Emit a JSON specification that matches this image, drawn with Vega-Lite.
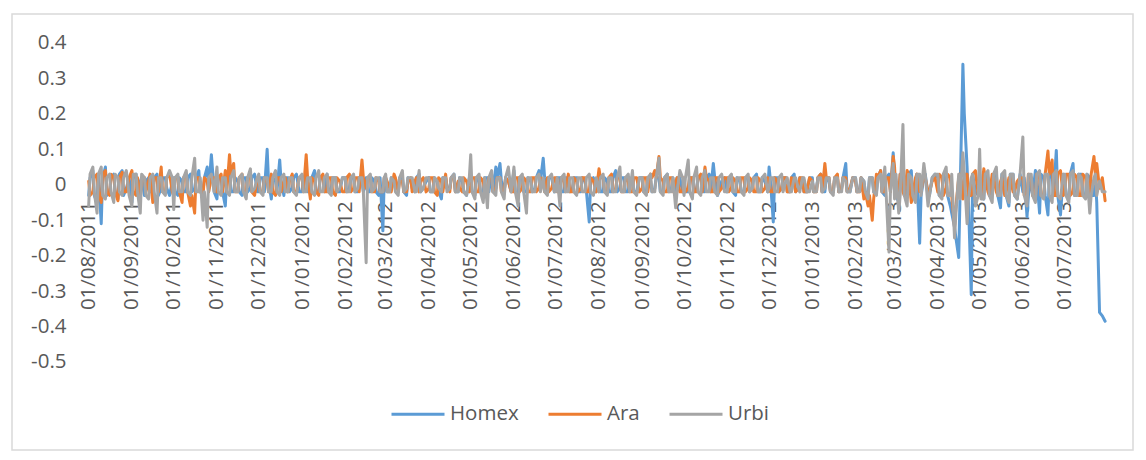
{
  "$schema": "https://vega.github.io/schema/vega-lite/v6.json",
  "width": 1121,
  "height": 436,
  "autosize": {"type": "none"},
  "padding": {"left": 12, "top": 14, "right": 13, "bottom": 10},
  "background": "white",
  "config": {
    "view": {"stroke": "#D9D9D9", "strokeWidth": 1.5},
    "font": "Open Sans"
  },
  "data": {
    "values": [
      {"d": "2011-08-01", "Homex": -0.03, "Ara": 0.01, "Urbi": -0.06},
      {"d": "2011-08-02", "Homex": 0.02, "Ara": -0.03, "Urbi": 0.03},
      {"d": "2011-08-04", "Homex": 0.04, "Ara": -0.02, "Urbi": 0.05},
      {"d": "2011-08-05", "Homex": -0.03, "Ara": 0.02, "Urbi": -0.02},
      {"d": "2011-08-07", "Homex": -0.05, "Ara": 0.03, "Urbi": -0.08},
      {"d": "2011-08-08", "Homex": 0.03, "Ara": -0.02, "Urbi": 0.03},
      {"d": "2011-08-10", "Homex": -0.11, "Ara": -0.05, "Urbi": 0.05},
      {"d": "2011-08-11", "Homex": 0.02, "Ara": 0.03, "Urbi": -0.03},
      {"d": "2011-08-13", "Homex": 0.05, "Ara": 0.04, "Urbi": -0.04},
      {"d": "2011-08-14", "Homex": -0.03, "Ara": -0.02, "Urbi": 0.02},
      {"d": "2011-08-16", "Homex": -0.02, "Ara": -0.03, "Urbi": 0.03},
      {"d": "2011-08-17", "Homex": 0.02, "Ara": 0.03, "Urbi": -0.02},
      {"d": "2011-08-19", "Homex": 0.03, "Ara": 0.02, "Urbi": -0.05},
      {"d": "2011-08-20", "Homex": -0.02, "Ara": -0.02, "Urbi": 0.03},
      {"d": "2011-08-22", "Homex": -0.04, "Ara": -0.045, "Urbi": 0.02},
      {"d": "2011-08-23", "Homex": 0.03, "Ara": 0.02, "Urbi": -0.02},
      {"d": "2011-08-25", "Homex": 0.04, "Ara": 0.035, "Urbi": -0.03},
      {"d": "2011-08-26", "Homex": -0.03, "Ara": -0.02, "Urbi": 0.02},
      {"d": "2011-08-28", "Homex": -0.01, "Ara": -0.02, "Urbi": 0.04},
      {"d": "2011-08-30", "Homex": 0.02, "Ara": 0.02, "Urbi": -0.03},
      {"d": "2011-09-01", "Homex": -0.05, "Ara": 0.04, "Urbi": -0.06},
      {"d": "2011-09-02", "Homex": 0.02, "Ara": -0.02, "Urbi": 0.03},
      {"d": "2011-09-04", "Homex": 0.03, "Ara": -0.03, "Urbi": 0.03},
      {"d": "2011-09-05", "Homex": -0.03, "Ara": 0.02, "Urbi": -0.02},
      {"d": "2011-09-07", "Homex": 0.01, "Ara": -0.04, "Urbi": -0.08},
      {"d": "2011-09-08", "Homex": 0.02, "Ara": 0.02, "Urbi": 0.03},
      {"d": "2011-09-10", "Homex": -0.03, "Ara": 0.02, "Urbi": 0.02},
      {"d": "2011-09-11", "Homex": 0.01, "Ara": -0.02, "Urbi": -0.03},
      {"d": "2011-09-13", "Homex": 0.02, "Ara": 0.01, "Urbi": -0.04},
      {"d": "2011-09-14", "Homex": -0.02, "Ara": 0.03, "Urbi": 0.02},
      {"d": "2011-09-16", "Homex": -0.02, "Ara": -0.05, "Urbi": 0.03},
      {"d": "2011-09-17", "Homex": 0.02, "Ara": 0.02, "Urbi": -0.02},
      {"d": "2011-09-19", "Homex": 0.03, "Ara": 0.02, "Urbi": -0.08},
      {"d": "2011-09-20", "Homex": -0.03, "Ara": -0.02, "Urbi": 0.02},
      {"d": "2011-09-22", "Homex": -0.01, "Ara": 0.05, "Urbi": 0.02},
      {"d": "2011-09-23", "Homex": 0.02, "Ara": -0.02, "Urbi": -0.02},
      {"d": "2011-09-25", "Homex": 0.02, "Ara": -0.02, "Urbi": -0.03},
      {"d": "2011-09-26", "Homex": -0.01, "Ara": 0.02, "Urbi": 0.02},
      {"d": "2011-09-28", "Homex": -0.03, "Ara": 0.03, "Urbi": 0.04},
      {"d": "2011-09-30", "Homex": 0.01, "Ara": -0.02, "Urbi": 0.02},
      {"d": "2011-10-01", "Homex": 0.02, "Ara": -0.03, "Urbi": -0.07},
      {"d": "2011-10-02", "Homex": -0.02, "Ara": 0.02, "Urbi": 0.02},
      {"d": "2011-10-04", "Homex": -0.03, "Ara": 0.02, "Urbi": 0.03},
      {"d": "2011-10-05", "Homex": 0.02, "Ara": -0.02, "Urbi": -0.02},
      {"d": "2011-10-07", "Homex": 0.01, "Ara": -0.05, "Urbi": -0.02},
      {"d": "2011-10-08", "Homex": -0.02, "Ara": 0.02, "Urbi": 0.02},
      {"d": "2011-10-10", "Homex": -0.02, "Ara": 0.03, "Urbi": 0.04},
      {"d": "2011-10-11", "Homex": 0.02, "Ara": -0.02, "Urbi": -0.02},
      {"d": "2011-10-13", "Homex": 0.03, "Ara": -0.06, "Urbi": -0.03},
      {"d": "2011-10-14", "Homex": -0.02, "Ara": -0.03, "Urbi": 0.02},
      {"d": "2011-10-16", "Homex": -0.01, "Ara": -0.08, "Urbi": 0.075},
      {"d": "2011-10-17", "Homex": 0.02, "Ara": 0.02, "Urbi": -0.02},
      {"d": "2011-10-19", "Homex": 0.04, "Ara": 0.02, "Urbi": -0.02},
      {"d": "2011-10-20", "Homex": -0.02, "Ara": -0.02, "Urbi": 0.02},
      {"d": "2011-10-22", "Homex": -0.02, "Ara": -0.03, "Urbi": -0.1},
      {"d": "2011-10-23", "Homex": 0.02, "Ara": 0.02, "Urbi": -0.02},
      {"d": "2011-10-25", "Homex": 0.05, "Ara": 0.01, "Urbi": -0.12},
      {"d": "2011-10-26", "Homex": -0.02, "Ara": -0.02, "Urbi": 0.02},
      {"d": "2011-10-28", "Homex": 0.085, "Ara": 0.02, "Urbi": 0.03},
      {"d": "2011-10-30", "Homex": -0.02, "Ara": 0.02, "Urbi": -0.02},
      {"d": "2011-11-01", "Homex": -0.04, "Ara": -0.02, "Urbi": 0.05},
      {"d": "2011-11-02", "Homex": 0.02, "Ara": 0.02, "Urbi": -0.02},
      {"d": "2011-11-04", "Homex": 0.02, "Ara": 0.03, "Urbi": -0.03},
      {"d": "2011-11-05", "Homex": -0.02, "Ara": -0.02, "Urbi": 0.02},
      {"d": "2011-11-07", "Homex": -0.06, "Ara": 0.04, "Urbi": 0.02},
      {"d": "2011-11-08", "Homex": 0.02, "Ara": -0.02, "Urbi": -0.02},
      {"d": "2011-11-10", "Homex": 0.03, "Ara": 0.085, "Urbi": -0.03},
      {"d": "2011-11-11", "Homex": -0.02, "Ara": 0.03, "Urbi": 0.02},
      {"d": "2011-11-13", "Homex": -0.02, "Ara": 0.06, "Urbi": 0.04},
      {"d": "2011-11-14", "Homex": 0.02, "Ara": -0.02, "Urbi": -0.02},
      {"d": "2011-11-16", "Homex": 0.01, "Ara": -0.02, "Urbi": -0.02},
      {"d": "2011-11-17", "Homex": -0.02, "Ara": 0.02, "Urbi": 0.02},
      {"d": "2011-11-19", "Homex": -0.03, "Ara": 0.03, "Urbi": 0.03},
      {"d": "2011-11-20", "Homex": 0.02, "Ara": -0.02, "Urbi": -0.02},
      {"d": "2011-11-22", "Homex": 0.02, "Ara": -0.02, "Urbi": -0.04},
      {"d": "2011-11-23", "Homex": -0.02, "Ara": 0.02, "Urbi": 0.02},
      {"d": "2011-11-25", "Homex": -0.01, "Ara": 0.02, "Urbi": 0.045},
      {"d": "2011-11-26", "Homex": 0.02, "Ara": -0.02, "Urbi": -0.02},
      {"d": "2011-11-28", "Homex": 0.03, "Ara": -0.03, "Urbi": -0.01},
      {"d": "2011-11-30", "Homex": -0.02, "Ara": 0.02, "Urbi": 0.02},
      {"d": "2011-12-01", "Homex": -0.02, "Ara": 0.02, "Urbi": 0.03},
      {"d": "2011-12-02", "Homex": 0.02, "Ara": -0.02, "Urbi": -0.02},
      {"d": "2011-12-04", "Homex": 0.02, "Ara": -0.02, "Urbi": -0.03},
      {"d": "2011-12-05", "Homex": -0.02, "Ara": 0.02, "Urbi": 0.02},
      {"d": "2011-12-07", "Homex": 0.1, "Ara": 0.01, "Urbi": 0.02},
      {"d": "2011-12-08", "Homex": 0.01, "Ara": -0.02, "Urbi": -0.02},
      {"d": "2011-12-10", "Homex": -0.04, "Ara": 0.03, "Urbi": -0.02},
      {"d": "2011-12-11", "Homex": 0.02, "Ara": -0.02, "Urbi": 0.02},
      {"d": "2011-12-13", "Homex": 0.01, "Ara": -0.03, "Urbi": 0.04},
      {"d": "2011-12-14", "Homex": -0.02, "Ara": 0.02, "Urbi": -0.02},
      {"d": "2011-12-16", "Homex": 0.07, "Ara": 0.02, "Urbi": -0.03},
      {"d": "2011-12-17", "Homex": 0.01, "Ara": -0.02, "Urbi": 0.02},
      {"d": "2011-12-19", "Homex": -0.03, "Ara": 0.01, "Urbi": 0.03},
      {"d": "2011-12-20", "Homex": 0.02, "Ara": 0.02, "Urbi": -0.02},
      {"d": "2011-12-22", "Homex": 0.02, "Ara": -0.02, "Urbi": -0.02},
      {"d": "2011-12-23", "Homex": -0.02, "Ara": 0.01, "Urbi": 0.02},
      {"d": "2011-12-25", "Homex": -0.01, "Ara": 0.03, "Urbi": 0.02},
      {"d": "2011-12-26", "Homex": 0.02, "Ara": -0.02, "Urbi": -0.02},
      {"d": "2011-12-28", "Homex": 0.03, "Ara": -0.02, "Urbi": -0.03},
      {"d": "2011-12-30", "Homex": -0.02, "Ara": 0.02, "Urbi": 0.02},
      {"d": "2012-01-01", "Homex": -0.02, "Ara": 0.02, "Urbi": 0.03},
      {"d": "2012-01-02", "Homex": 0.02, "Ara": -0.02, "Urbi": -0.02},
      {"d": "2012-01-04", "Homex": 0.03, "Ara": 0.085, "Urbi": -0.02},
      {"d": "2012-01-05", "Homex": -0.02, "Ara": 0.02, "Urbi": 0.02},
      {"d": "2012-01-07", "Homex": -0.01, "Ara": -0.04, "Urbi": 0.02},
      {"d": "2012-01-08", "Homex": 0.02, "Ara": 0.02, "Urbi": -0.02},
      {"d": "2012-01-10", "Homex": 0.04, "Ara": 0.01, "Urbi": -0.03},
      {"d": "2012-01-11", "Homex": -0.02, "Ara": -0.02, "Urbi": 0.02},
      {"d": "2012-01-13", "Homex": -0.02, "Ara": -0.03, "Urbi": 0.04},
      {"d": "2012-01-14", "Homex": 0.02, "Ara": 0.02, "Urbi": -0.02},
      {"d": "2012-01-16", "Homex": 0.02, "Ara": 0.03, "Urbi": -0.02},
      {"d": "2012-01-17", "Homex": -0.02, "Ara": -0.02, "Urbi": 0.02},
      {"d": "2012-01-19", "Homex": 0.03, "Ara": -0.02, "Urbi": 0.03},
      {"d": "2012-01-20", "Homex": -0.02, "Ara": 0.02, "Urbi": -0.02},
      {"d": "2012-01-22", "Homex": -0.01, "Ara": 0.02, "Urbi": -0.03},
      {"d": "2012-01-23", "Homex": 0.02, "Ara": -0.02, "Urbi": 0.02},
      {"d": "2012-01-25", "Homex": 0.02, "Ara": -0.03, "Urbi": 0.02},
      {"d": "2012-01-26", "Homex": -0.02, "Ara": 0.02, "Urbi": -0.02},
      {"d": "2012-01-28", "Homex": -0.02, "Ara": 0.01, "Urbi": -0.01},
      {"d": "2012-01-30", "Homex": 0.02, "Ara": -0.02, "Urbi": 0.02},
      {"d": "2012-02-01", "Homex": 0.02, "Ara": -0.02, "Urbi": 0.02},
      {"d": "2012-02-02", "Homex": -0.02, "Ara": 0.02, "Urbi": -0.02},
      {"d": "2012-02-04", "Homex": -0.01, "Ara": 0.03, "Urbi": -0.02},
      {"d": "2012-02-05", "Homex": 0.02, "Ara": -0.02, "Urbi": 0.02},
      {"d": "2012-02-07", "Homex": 0.02, "Ara": -0.01, "Urbi": 0.03},
      {"d": "2012-02-08", "Homex": -0.02, "Ara": 0.02, "Urbi": -0.02},
      {"d": "2012-02-10", "Homex": -0.02, "Ara": 0.02, "Urbi": -0.01},
      {"d": "2012-02-11", "Homex": 0.02, "Ara": -0.02, "Urbi": 0.02},
      {"d": "2012-02-13", "Homex": 0.01, "Ara": 0.07, "Urbi": 0.02},
      {"d": "2012-02-14", "Homex": -0.02, "Ara": 0.02, "Urbi": -0.02},
      {"d": "2012-02-16", "Homex": 0.02, "Ara": -0.01, "Urbi": -0.22},
      {"d": "2012-02-17", "Homex": -0.02, "Ara": 0.02, "Urbi": 0.02},
      {"d": "2012-02-19", "Homex": -0.02, "Ara": 0.02, "Urbi": 0.03},
      {"d": "2012-02-20", "Homex": 0.02, "Ara": -0.02, "Urbi": -0.02},
      {"d": "2012-02-22", "Homex": 0.01, "Ara": -0.02, "Urbi": -0.01},
      {"d": "2012-02-23", "Homex": -0.02, "Ara": 0.02, "Urbi": 0.02},
      {"d": "2012-02-25", "Homex": -0.03, "Ara": 0.01, "Urbi": 0.02},
      {"d": "2012-02-26", "Homex": 0.02, "Ara": -0.02, "Urbi": -0.02},
      {"d": "2012-02-28", "Homex": -0.13, "Ara": -0.02, "Urbi": -0.02},
      {"d": "2012-02-29", "Homex": 0.02, "Ara": 0.02, "Urbi": 0.02},
      {"d": "2012-03-01", "Homex": 0.02, "Ara": 0.02, "Urbi": 0.03},
      {"d": "2012-03-02", "Homex": -0.02, "Ara": 0.01, "Urbi": -0.02},
      {"d": "2012-03-04", "Homex": -0.02, "Ara": -0.01, "Urbi": -0.02},
      {"d": "2012-03-05", "Homex": 0.02, "Ara": -0.02, "Urbi": 0.02},
      {"d": "2012-03-07", "Homex": 0.01, "Ara": 0.03, "Urbi": 0.01},
      {"d": "2012-03-08", "Homex": -0.01, "Ara": 0.02, "Urbi": -0.02},
      {"d": "2012-03-10", "Homex": -0.01, "Ara": -0.02, "Urbi": -0.03},
      {"d": "2012-03-11", "Homex": 0.02, "Ara": 0.01, "Urbi": 0.02},
      {"d": "2012-03-13", "Homex": 0.02, "Ara": 0.01, "Urbi": 0.04},
      {"d": "2012-03-14", "Homex": -0.02, "Ara": -0.02, "Urbi": -0.02},
      {"d": "2012-03-16", "Homex": -0.03, "Ara": -0.02, "Urbi": -0.01},
      {"d": "2012-03-17", "Homex": 0.02, "Ara": 0.01, "Urbi": 0.02},
      {"d": "2012-03-19", "Homex": 0.01, "Ara": 0.02, "Urbi": 0.02},
      {"d": "2012-03-20", "Homex": -0.01, "Ara": -0.02, "Urbi": 0.02},
      {"d": "2012-03-22", "Homex": -0.02, "Ara": 0.01, "Urbi": -0.02},
      {"d": "2012-03-23", "Homex": 0.02, "Ara": 0.02, "Urbi": -0.02},
      {"d": "2012-03-25", "Homex": 0.03, "Ara": -0.02, "Urbi": 0.04},
      {"d": "2012-03-26", "Homex": -0.02, "Ara": 0.01, "Urbi": -0.02},
      {"d": "2012-03-28", "Homex": -0.01, "Ara": 0.02, "Urbi": -0.01},
      {"d": "2012-03-30", "Homex": 0.01, "Ara": -0.02, "Urbi": 0.02},
      {"d": "2012-04-01", "Homex": 0.02, "Ara": -0.01, "Urbi": 0.02},
      {"d": "2012-04-02", "Homex": -0.02, "Ara": 0.02, "Urbi": -0.02},
      {"d": "2012-04-04", "Homex": -0.02, "Ara": 0.02, "Urbi": -0.02},
      {"d": "2012-04-05", "Homex": 0.02, "Ara": -0.02, "Urbi": 0.02},
      {"d": "2012-04-07", "Homex": 0.01, "Ara": -0.03, "Urbi": 0.01},
      {"d": "2012-04-08", "Homex": -0.02, "Ara": 0.02, "Urbi": -0.01},
      {"d": "2012-04-10", "Homex": -0.04, "Ara": 0.01, "Urbi": -0.02},
      {"d": "2012-04-11", "Homex": 0.02, "Ara": -0.02, "Urbi": 0.02},
      {"d": "2012-04-13", "Homex": 0.02, "Ara": 0.03, "Urbi": 0.02},
      {"d": "2012-04-14", "Homex": -0.01, "Ara": -0.01, "Urbi": -0.02},
      {"d": "2012-04-16", "Homex": -0.01, "Ara": -0.02, "Urbi": -0.01},
      {"d": "2012-04-17", "Homex": 0.02, "Ara": 0.02, "Urbi": 0.02},
      {"d": "2012-04-19", "Homex": 0.03, "Ara": 0.02, "Urbi": 0.03},
      {"d": "2012-04-20", "Homex": -0.02, "Ara": -0.02, "Urbi": -0.02},
      {"d": "2012-04-22", "Homex": -0.02, "Ara": 0.01, "Urbi": -0.02},
      {"d": "2012-04-23", "Homex": 0.02, "Ara": -0.01, "Urbi": 0.02},
      {"d": "2012-04-25", "Homex": 0.01, "Ara": -0.02, "Urbi": 0.02},
      {"d": "2012-04-26", "Homex": -0.02, "Ara": 0.02, "Urbi": -0.02},
      {"d": "2012-04-28", "Homex": -0.03, "Ara": 0.01, "Urbi": -0.03},
      {"d": "2012-04-30", "Homex": 0.02, "Ara": -0.02, "Urbi": 0.02},
      {"d": "2012-05-01", "Homex": 0.02, "Ara": -0.01, "Urbi": 0.085},
      {"d": "2012-05-02", "Homex": -0.02, "Ara": 0.02, "Urbi": -0.02},
      {"d": "2012-05-04", "Homex": -0.03, "Ara": 0.02, "Urbi": -0.04},
      {"d": "2012-05-05", "Homex": 0.02, "Ara": -0.02, "Urbi": 0.02},
      {"d": "2012-05-07", "Homex": 0.01, "Ara": -0.02, "Urbi": 0.03},
      {"d": "2012-05-08", "Homex": -0.02, "Ara": 0.02, "Urbi": -0.02},
      {"d": "2012-05-10", "Homex": -0.02, "Ara": 0.01, "Urbi": -0.05},
      {"d": "2012-05-11", "Homex": 0.02, "Ara": -0.02, "Urbi": 0.02},
      {"d": "2012-05-13", "Homex": 0.02, "Ara": -0.01, "Urbi": -0.065},
      {"d": "2012-05-14", "Homex": -0.02, "Ara": 0.02, "Urbi": 0.02},
      {"d": "2012-05-16", "Homex": 0.03, "Ara": 0.02, "Urbi": 0.04},
      {"d": "2012-05-17", "Homex": -0.02, "Ara": -0.02, "Urbi": -0.02},
      {"d": "2012-05-19", "Homex": 0.05, "Ara": -0.01, "Urbi": -0.03},
      {"d": "2012-05-20", "Homex": 0.02, "Ara": 0.02, "Urbi": 0.02},
      {"d": "2012-05-22", "Homex": 0.06, "Ara": 0.02, "Urbi": 0.02},
      {"d": "2012-05-23", "Homex": 0.01, "Ara": -0.02, "Urbi": -0.02},
      {"d": "2012-05-25", "Homex": -0.02, "Ara": -0.02, "Urbi": -0.04},
      {"d": "2012-05-26", "Homex": 0.02, "Ara": 0.02, "Urbi": 0.02},
      {"d": "2012-05-28", "Homex": 0.01, "Ara": 0.01, "Urbi": 0.05},
      {"d": "2012-05-30", "Homex": -0.02, "Ara": -0.02, "Urbi": -0.02},
      {"d": "2012-06-01", "Homex": 0.04, "Ara": -0.02, "Urbi": 0.05},
      {"d": "2012-06-02", "Homex": -0.02, "Ara": 0.02, "Urbi": -0.02},
      {"d": "2012-06-04", "Homex": -0.03, "Ara": 0.02, "Urbi": -0.06},
      {"d": "2012-06-05", "Homex": 0.02, "Ara": -0.02, "Urbi": 0.02},
      {"d": "2012-06-07", "Homex": 0.02, "Ara": -0.01, "Urbi": 0.03},
      {"d": "2012-06-08", "Homex": -0.02, "Ara": 0.02, "Urbi": -0.02},
      {"d": "2012-06-10", "Homex": -0.02, "Ara": 0.01, "Urbi": -0.08},
      {"d": "2012-06-11", "Homex": 0.02, "Ara": -0.02, "Urbi": 0.02},
      {"d": "2012-06-13", "Homex": 0.01, "Ara": -0.02, "Urbi": 0.02},
      {"d": "2012-06-14", "Homex": -0.02, "Ara": 0.02, "Urbi": -0.02},
      {"d": "2012-06-16", "Homex": -0.01, "Ara": 0.02, "Urbi": -0.02},
      {"d": "2012-06-17", "Homex": 0.02, "Ara": -0.02, "Urbi": 0.02},
      {"d": "2012-06-19", "Homex": 0.04, "Ara": -0.01, "Urbi": 0.03},
      {"d": "2012-06-20", "Homex": 0.01, "Ara": 0.02, "Urbi": -0.02},
      {"d": "2012-06-22", "Homex": 0.075, "Ara": 0.01, "Urbi": 0.02},
      {"d": "2012-06-23", "Homex": 0.02, "Ara": -0.02, "Urbi": -0.02},
      {"d": "2012-06-25", "Homex": -0.02, "Ara": 0.02, "Urbi": -0.03},
      {"d": "2012-06-26", "Homex": 0.02, "Ara": -0.02, "Urbi": 0.02},
      {"d": "2012-06-28", "Homex": 0.02, "Ara": -0.01, "Urbi": 0.03},
      {"d": "2012-06-30", "Homex": -0.02, "Ara": 0.02, "Urbi": -0.02},
      {"d": "2012-07-01", "Homex": -0.01, "Ara": 0.02, "Urbi": -0.02},
      {"d": "2012-07-02", "Homex": 0.02, "Ara": -0.02, "Urbi": 0.02},
      {"d": "2012-07-04", "Homex": 0.02, "Ara": -0.02, "Urbi": -0.06},
      {"d": "2012-07-05", "Homex": -0.02, "Ara": 0.02, "Urbi": 0.02},
      {"d": "2012-07-07", "Homex": -0.02, "Ara": 0.01, "Urbi": 0.03},
      {"d": "2012-07-08", "Homex": 0.02, "Ara": -0.02, "Urbi": -0.02},
      {"d": "2012-07-10", "Homex": 0.02, "Ara": 0.03, "Urbi": -0.02},
      {"d": "2012-07-11", "Homex": -0.02, "Ara": -0.02, "Urbi": 0.02},
      {"d": "2012-07-13", "Homex": -0.01, "Ara": -0.02, "Urbi": 0.02},
      {"d": "2012-07-14", "Homex": 0.02, "Ara": 0.02, "Urbi": -0.02},
      {"d": "2012-07-16", "Homex": 0.02, "Ara": 0.01, "Urbi": -0.03},
      {"d": "2012-07-17", "Homex": -0.02, "Ara": -0.02, "Urbi": 0.02},
      {"d": "2012-07-19", "Homex": -0.02, "Ara": -0.01, "Urbi": 0.02},
      {"d": "2012-07-20", "Homex": 0.02, "Ara": 0.02, "Urbi": -0.02},
      {"d": "2012-07-22", "Homex": 0.01, "Ara": 0.02, "Urbi": -0.02},
      {"d": "2012-07-23", "Homex": -0.02, "Ara": -0.02, "Urbi": 0.02},
      {"d": "2012-07-25", "Homex": -0.105, "Ara": -0.02, "Urbi": 0.03},
      {"d": "2012-07-26", "Homex": 0.01, "Ara": 0.02, "Urbi": -0.02},
      {"d": "2012-07-28", "Homex": 0.02, "Ara": 0.01, "Urbi": -0.03},
      {"d": "2012-07-30", "Homex": -0.02, "Ara": -0.02, "Urbi": 0.02},
      {"d": "2012-08-01", "Homex": 0.03, "Ara": 0.045, "Urbi": -0.02},
      {"d": "2012-08-02", "Homex": -0.02, "Ara": 0.02, "Urbi": 0.02},
      {"d": "2012-08-04", "Homex": -0.02, "Ara": 0.02, "Urbi": 0.03},
      {"d": "2012-08-05", "Homex": 0.02, "Ara": -0.02, "Urbi": -0.02},
      {"d": "2012-08-07", "Homex": 0.01, "Ara": -0.02, "Urbi": -0.03},
      {"d": "2012-08-08", "Homex": -0.02, "Ara": 0.02, "Urbi": 0.02},
      {"d": "2012-08-10", "Homex": -0.02, "Ara": 0.03, "Urbi": 0.02},
      {"d": "2012-08-11", "Homex": 0.02, "Ara": -0.02, "Urbi": -0.02},
      {"d": "2012-08-13", "Homex": 0.04, "Ara": -0.01, "Urbi": -0.02},
      {"d": "2012-08-14", "Homex": -0.02, "Ara": 0.02, "Urbi": 0.02},
      {"d": "2012-08-16", "Homex": -0.01, "Ara": 0.02, "Urbi": 0.05},
      {"d": "2012-08-17", "Homex": 0.02, "Ara": -0.02, "Urbi": -0.02},
      {"d": "2012-08-19", "Homex": 0.02, "Ara": -0.02, "Urbi": -0.02},
      {"d": "2012-08-20", "Homex": -0.02, "Ara": 0.02, "Urbi": 0.02},
      {"d": "2012-08-22", "Homex": -0.02, "Ara": 0.01, "Urbi": 0.03},
      {"d": "2012-08-23", "Homex": 0.02, "Ara": -0.02, "Urbi": -0.02},
      {"d": "2012-08-25", "Homex": 0.01, "Ara": -0.02, "Urbi": 0.04},
      {"d": "2012-08-26", "Homex": -0.02, "Ara": 0.02, "Urbi": -0.02},
      {"d": "2012-08-28", "Homex": -0.02, "Ara": 0.02, "Urbi": -0.03},
      {"d": "2012-08-30", "Homex": 0.02, "Ara": -0.02, "Urbi": 0.02},
      {"d": "2012-09-01", "Homex": 0.02, "Ara": -0.01, "Urbi": 0.02},
      {"d": "2012-09-02", "Homex": -0.02, "Ara": 0.02, "Urbi": -0.02},
      {"d": "2012-09-04", "Homex": -0.02, "Ara": 0.02, "Urbi": -0.03},
      {"d": "2012-09-05", "Homex": 0.02, "Ara": -0.02, "Urbi": 0.02},
      {"d": "2012-09-07", "Homex": 0.01, "Ara": 0.03, "Urbi": 0.03},
      {"d": "2012-09-08", "Homex": -0.02, "Ara": 0.02, "Urbi": -0.02},
      {"d": "2012-09-10", "Homex": -0.01, "Ara": 0.04, "Urbi": -0.02},
      {"d": "2012-09-11", "Homex": 0.02, "Ara": 0.02, "Urbi": 0.02},
      {"d": "2012-09-13", "Homex": 0.02, "Ara": 0.08, "Urbi": 0.075},
      {"d": "2012-09-14", "Homex": -0.02, "Ara": 0.02, "Urbi": -0.02},
      {"d": "2012-09-16", "Homex": -0.02, "Ara": 0.01, "Urbi": -0.03},
      {"d": "2012-09-17", "Homex": 0.02, "Ara": -0.02, "Urbi": 0.02},
      {"d": "2012-09-19", "Homex": 0.03, "Ara": -0.02, "Urbi": 0.03},
      {"d": "2012-09-20", "Homex": -0.02, "Ara": 0.02, "Urbi": -0.02},
      {"d": "2012-09-22", "Homex": -0.01, "Ara": 0.02, "Urbi": -0.02},
      {"d": "2012-09-23", "Homex": 0.02, "Ara": -0.02, "Urbi": 0.02},
      {"d": "2012-09-25", "Homex": -0.03, "Ara": 0.01, "Urbi": -0.065},
      {"d": "2012-09-26", "Homex": 0.02, "Ara": 0.02, "Urbi": -0.02},
      {"d": "2012-09-28", "Homex": 0.02, "Ara": -0.02, "Urbi": 0.04},
      {"d": "2012-09-30", "Homex": -0.02, "Ara": -0.02, "Urbi": 0.02},
      {"d": "2012-10-01", "Homex": 0.01, "Ara": 0.02, "Urbi": -0.03},
      {"d": "2012-10-02", "Homex": -0.02, "Ara": -0.02, "Urbi": 0.02},
      {"d": "2012-10-04", "Homex": -0.02, "Ara": -0.01, "Urbi": 0.07},
      {"d": "2012-10-05", "Homex": 0.02, "Ara": 0.02, "Urbi": -0.02},
      {"d": "2012-10-07", "Homex": 0.02, "Ara": 0.02, "Urbi": -0.04},
      {"d": "2012-10-08", "Homex": -0.02, "Ara": -0.02, "Urbi": 0.02},
      {"d": "2012-10-10", "Homex": -0.01, "Ara": -0.02, "Urbi": 0.05},
      {"d": "2012-10-11", "Homex": 0.02, "Ara": 0.02, "Urbi": -0.02},
      {"d": "2012-10-13", "Homex": 0.02, "Ara": 0.03, "Urbi": -0.03},
      {"d": "2012-10-14", "Homex": -0.02, "Ara": -0.02, "Urbi": 0.02},
      {"d": "2012-10-16", "Homex": -0.02, "Ara": 0.05, "Urbi": 0.04},
      {"d": "2012-10-17", "Homex": 0.02, "Ara": 0.02, "Urbi": -0.02},
      {"d": "2012-10-19", "Homex": 0.03, "Ara": 0.01, "Urbi": -0.02},
      {"d": "2012-10-20", "Homex": -0.02, "Ara": -0.02, "Urbi": 0.02},
      {"d": "2012-10-22", "Homex": 0.06, "Ara": -0.02, "Urbi": 0.02},
      {"d": "2012-10-23", "Homex": 0.02, "Ara": 0.02, "Urbi": -0.02},
      {"d": "2012-10-25", "Homex": -0.03, "Ara": 0.02, "Urbi": -0.03},
      {"d": "2012-10-26", "Homex": -0.02, "Ara": -0.02, "Urbi": 0.02},
      {"d": "2012-10-28", "Homex": 0.01, "Ara": -0.01, "Urbi": 0.03},
      {"d": "2012-10-30", "Homex": 0.02, "Ara": 0.02, "Urbi": -0.02},
      {"d": "2012-11-01", "Homex": -0.02, "Ara": 0.02, "Urbi": -0.02},
      {"d": "2012-11-02", "Homex": 0.02, "Ara": -0.02, "Urbi": 0.02},
      {"d": "2012-11-04", "Homex": 0.02, "Ara": -0.01, "Urbi": 0.03},
      {"d": "2012-11-05", "Homex": -0.02, "Ara": 0.02, "Urbi": -0.02},
      {"d": "2012-11-07", "Homex": -0.03, "Ara": 0.01, "Urbi": -0.02},
      {"d": "2012-11-08", "Homex": 0.02, "Ara": -0.02, "Urbi": 0.02},
      {"d": "2012-11-10", "Homex": 0.01, "Ara": -0.02, "Urbi": 0.02},
      {"d": "2012-11-11", "Homex": -0.02, "Ara": 0.02, "Urbi": -0.02},
      {"d": "2012-11-13", "Homex": -0.02, "Ara": 0.02, "Urbi": -0.03},
      {"d": "2012-11-14", "Homex": 0.02, "Ara": -0.02, "Urbi": 0.02},
      {"d": "2012-11-16", "Homex": 0.02, "Ara": -0.01, "Urbi": 0.03},
      {"d": "2012-11-17", "Homex": -0.02, "Ara": 0.02, "Urbi": -0.02},
      {"d": "2012-11-19", "Homex": -0.01, "Ara": 0.01, "Urbi": -0.01},
      {"d": "2012-11-20", "Homex": 0.02, "Ara": -0.02, "Urbi": 0.02},
      {"d": "2012-11-22", "Homex": 0.03, "Ara": -0.02, "Urbi": 0.02},
      {"d": "2012-11-23", "Homex": -0.02, "Ara": 0.02, "Urbi": -0.02},
      {"d": "2012-11-25", "Homex": -0.02, "Ara": 0.01, "Urbi": -0.02},
      {"d": "2012-11-26", "Homex": 0.02, "Ara": -0.02, "Urbi": 0.02},
      {"d": "2012-11-28", "Homex": 0.01, "Ara": -0.01, "Urbi": 0.03},
      {"d": "2012-11-30", "Homex": -0.02, "Ara": 0.02, "Urbi": -0.02},
      {"d": "2012-12-01", "Homex": 0.05, "Ara": 0.01, "Urbi": -0.01},
      {"d": "2012-12-02", "Homex": 0.01, "Ara": -0.02, "Urbi": 0.02},
      {"d": "2012-12-04", "Homex": -0.105, "Ara": -0.02, "Urbi": 0.02},
      {"d": "2012-12-05", "Homex": 0.02, "Ara": 0.02, "Urbi": -0.02},
      {"d": "2012-12-07", "Homex": 0.02, "Ara": 0.01, "Urbi": -0.02},
      {"d": "2012-12-08", "Homex": -0.02, "Ara": -0.02, "Urbi": 0.02},
      {"d": "2012-12-10", "Homex": -0.01, "Ara": -0.01, "Urbi": 0.03},
      {"d": "2012-12-11", "Homex": 0.02, "Ara": 0.02, "Urbi": -0.02},
      {"d": "2012-12-13", "Homex": 0.02, "Ara": 0.02, "Urbi": 0.01},
      {"d": "2012-12-14", "Homex": -0.02, "Ara": -0.02, "Urbi": 0.02},
      {"d": "2012-12-16", "Homex": -0.02, "Ara": -0.02, "Urbi": -0.02},
      {"d": "2012-12-17", "Homex": 0.02, "Ara": 0.02, "Urbi": -0.02},
      {"d": "2012-12-19", "Homex": 0.03, "Ara": 0.01, "Urbi": 0.02},
      {"d": "2012-12-20", "Homex": -0.02, "Ara": -0.02, "Urbi": 0.02},
      {"d": "2012-12-22", "Homex": -0.01, "Ara": -0.01, "Urbi": -0.01},
      {"d": "2012-12-23", "Homex": 0.02, "Ara": 0.02, "Urbi": -0.02},
      {"d": "2012-12-25", "Homex": 0.01, "Ara": 0.02, "Urbi": 0.02},
      {"d": "2012-12-26", "Homex": -0.02, "Ara": -0.02, "Urbi": 0.02},
      {"d": "2012-12-28", "Homex": -0.02, "Ara": -0.02, "Urbi": -0.02},
      {"d": "2012-12-30", "Homex": 0.02, "Ara": 0.02, "Urbi": -0.02},
      {"d": "2013-01-01", "Homex": 0.02, "Ara": 0.01, "Urbi": 0.01},
      {"d": "2013-01-02", "Homex": -0.02, "Ara": -0.02, "Urbi": -0.02},
      {"d": "2013-01-04", "Homex": -0.01, "Ara": -0.02, "Urbi": -0.02},
      {"d": "2013-01-05", "Homex": 0.02, "Ara": 0.02, "Urbi": 0.02},
      {"d": "2013-01-07", "Homex": 0.03, "Ara": 0.03, "Urbi": 0.02},
      {"d": "2013-01-08", "Homex": -0.02, "Ara": -0.02, "Urbi": -0.02},
      {"d": "2013-01-10", "Homex": -0.02, "Ara": 0.06, "Urbi": -0.01},
      {"d": "2013-01-11", "Homex": 0.02, "Ara": 0.02, "Urbi": 0.02},
      {"d": "2013-01-13", "Homex": 0.01, "Ara": 0.02, "Urbi": 0.02},
      {"d": "2013-01-14", "Homex": -0.02, "Ara": -0.02, "Urbi": -0.02},
      {"d": "2013-01-16", "Homex": -0.02, "Ara": -0.02, "Urbi": -0.03},
      {"d": "2013-01-17", "Homex": 0.02, "Ara": 0.02, "Urbi": 0.02},
      {"d": "2013-01-19", "Homex": 0.02, "Ara": 0.03, "Urbi": 0.02},
      {"d": "2013-01-20", "Homex": -0.02, "Ara": -0.02, "Urbi": -0.02},
      {"d": "2013-01-22", "Homex": -0.01, "Ara": -0.01, "Urbi": -0.02},
      {"d": "2013-01-23", "Homex": 0.02, "Ara": 0.02, "Urbi": 0.02},
      {"d": "2013-01-25", "Homex": 0.06, "Ara": 0.02, "Urbi": 0.01},
      {"d": "2013-01-26", "Homex": -0.02, "Ara": -0.02, "Urbi": -0.02},
      {"d": "2013-01-28", "Homex": -0.02, "Ara": -0.01, "Urbi": -0.02},
      {"d": "2013-01-30", "Homex": 0.02, "Ara": 0.02, "Urbi": 0.02},
      {"d": "2013-02-01", "Homex": 0.02, "Ara": 0.01, "Urbi": 0.02},
      {"d": "2013-02-02", "Homex": -0.02, "Ara": -0.02, "Urbi": -0.02},
      {"d": "2013-02-04", "Homex": -0.01, "Ara": -0.02, "Urbi": -0.02},
      {"d": "2013-02-05", "Homex": 0.02, "Ara": 0.02, "Urbi": 0.02},
      {"d": "2013-02-07", "Homex": 0.01, "Ara": -0.04, "Urbi": 0.01},
      {"d": "2013-02-08", "Homex": -0.02, "Ara": -0.02, "Urbi": -0.02},
      {"d": "2013-02-10", "Homex": -0.03, "Ara": -0.06, "Urbi": -0.04},
      {"d": "2013-02-11", "Homex": 0.02, "Ara": -0.03, "Urbi": 0.02},
      {"d": "2013-02-13", "Homex": 0.02, "Ara": -0.1, "Urbi": 0.02},
      {"d": "2013-02-14", "Homex": -0.02, "Ara": -0.04, "Urbi": -0.02},
      {"d": "2013-02-16", "Homex": -0.02, "Ara": 0.03, "Urbi": -0.03},
      {"d": "2013-02-17", "Homex": 0.02, "Ara": 0.02, "Urbi": 0.02},
      {"d": "2013-02-19", "Homex": 0.04, "Ara": 0.04, "Urbi": 0.03},
      {"d": "2013-02-20", "Homex": -0.02, "Ara": -0.02, "Urbi": -0.02},
      {"d": "2013-02-22", "Homex": -0.03, "Ara": -0.02, "Urbi": 0.05},
      {"d": "2013-02-23", "Homex": 0.02, "Ara": 0.02, "Urbi": -0.03},
      {"d": "2013-02-25", "Homex": 0.03, "Ara": 0.02, "Urbi": -0.19},
      {"d": "2013-02-26", "Homex": -0.02, "Ara": -0.02, "Urbi": -0.02},
      {"d": "2013-02-28", "Homex": 0.09, "Ara": 0.08, "Urbi": 0.06},
      {"d": "2013-03-01", "Homex": 0.03, "Ara": 0.05, "Urbi": -0.04},
      {"d": "2013-03-02", "Homex": -0.03, "Ara": -0.03, "Urbi": 0.03},
      {"d": "2013-03-04", "Homex": -0.05, "Ara": -0.03, "Urbi": -0.08},
      {"d": "2013-03-05", "Homex": 0.03, "Ara": 0.03, "Urbi": -0.03},
      {"d": "2013-03-07", "Homex": 0.02, "Ara": -0.02, "Urbi": 0.17},
      {"d": "2013-03-08", "Homex": -0.03, "Ara": -0.03, "Urbi": -0.03},
      {"d": "2013-03-10", "Homex": -0.03, "Ara": 0.04, "Urbi": -0.06},
      {"d": "2013-03-11", "Homex": 0.03, "Ara": 0.03, "Urbi": 0.03},
      {"d": "2013-03-13", "Homex": 0.04, "Ara": -0.05, "Urbi": 0.02},
      {"d": "2013-03-14", "Homex": -0.03, "Ara": -0.03, "Urbi": -0.03},
      {"d": "2013-03-16", "Homex": -0.02, "Ara": 0.02, "Urbi": -0.05},
      {"d": "2013-03-17", "Homex": 0.03, "Ara": 0.03, "Urbi": 0.03},
      {"d": "2013-03-19", "Homex": -0.165, "Ara": -0.02, "Urbi": 0.03},
      {"d": "2013-03-20", "Homex": -0.03, "Ara": -0.02, "Urbi": -0.03},
      {"d": "2013-03-22", "Homex": 0.02, "Ara": 0.03, "Urbi": 0.06},
      {"d": "2013-03-23", "Homex": 0.03, "Ara": 0.02, "Urbi": 0.03},
      {"d": "2013-03-25", "Homex": -0.03, "Ara": -0.02, "Urbi": -0.06},
      {"d": "2013-03-26", "Homex": -0.03, "Ara": -0.02, "Urbi": -0.03},
      {"d": "2013-03-28", "Homex": 0.02, "Ara": 0.01, "Urbi": 0.02},
      {"d": "2013-03-30", "Homex": 0.03, "Ara": 0.02, "Urbi": 0.03},
      {"d": "2013-04-01", "Homex": 0.02, "Ara": -0.02, "Urbi": 0.03},
      {"d": "2013-04-02", "Homex": -0.03, "Ara": 0.03, "Urbi": -0.03},
      {"d": "2013-04-04", "Homex": -0.03, "Ara": 0.02, "Urbi": -0.04},
      {"d": "2013-04-05", "Homex": 0.03, "Ara": -0.03, "Urbi": 0.03},
      {"d": "2013-04-07", "Homex": 0.01, "Ara": -0.01, "Urbi": 0.05},
      {"d": "2013-04-08", "Homex": -0.03, "Ara": 0.03, "Urbi": -0.03},
      {"d": "2013-04-10", "Homex": -0.06, "Ara": 0.02, "Urbi": -0.03},
      {"d": "2013-04-11", "Homex": -0.08, "Ara": -0.03, "Urbi": 0.03},
      {"d": "2013-04-13", "Homex": -0.12, "Ara": -0.12, "Urbi": -0.15},
      {"d": "2013-04-14", "Homex": -0.15, "Ara": -0.06, "Urbi": -0.08},
      {"d": "2013-04-16", "Homex": -0.205, "Ara": 0.02, "Urbi": 0.03},
      {"d": "2013-04-17", "Homex": -0.02, "Ara": 0.03, "Urbi": -0.04},
      {"d": "2013-04-19", "Homex": 0.34, "Ara": -0.04, "Urbi": 0.09},
      {"d": "2013-04-20", "Homex": 0.2, "Ara": 0.03, "Urbi": 0.03},
      {"d": "2013-04-22", "Homex": 0.05, "Ara": 0.03, "Urbi": -0.11},
      {"d": "2013-04-23", "Homex": -0.05, "Ara": -0.03, "Urbi": -0.04},
      {"d": "2013-04-25", "Homex": -0.31, "Ara": -0.03, "Urbi": 0.02},
      {"d": "2013-04-26", "Homex": 0.03, "Ara": 0.03, "Urbi": 0.03},
      {"d": "2013-04-28", "Homex": -0.02, "Ara": 0.04, "Urbi": -0.06},
      {"d": "2013-04-30", "Homex": -0.03, "Ara": -0.03, "Urbi": -0.03},
      {"d": "2013-05-01", "Homex": 0.03, "Ara": 0.02, "Urbi": 0.1},
      {"d": "2013-05-02", "Homex": -0.03, "Ara": -0.03, "Urbi": -0.04},
      {"d": "2013-05-04", "Homex": -0.04, "Ara": 0.045, "Urbi": -0.04},
      {"d": "2013-05-05", "Homex": 0.03, "Ara": 0.02, "Urbi": 0.03},
      {"d": "2013-05-07", "Homex": 0.02, "Ara": -0.02, "Urbi": 0.04},
      {"d": "2013-05-08", "Homex": -0.03, "Ara": -0.03, "Urbi": -0.03},
      {"d": "2013-05-10", "Homex": -0.03, "Ara": 0.03, "Urbi": -0.05},
      {"d": "2013-05-11", "Homex": 0.03, "Ara": 0.02, "Urbi": 0.03},
      {"d": "2013-05-13", "Homex": 0.03, "Ara": -0.02, "Urbi": 0.05},
      {"d": "2013-05-14", "Homex": -0.03, "Ara": -0.03, "Urbi": -0.03},
      {"d": "2013-05-16", "Homex": -0.065, "Ara": 0.01, "Urbi": -0.03},
      {"d": "2013-05-17", "Homex": 0.03, "Ara": 0.02, "Urbi": 0.03},
      {"d": "2013-05-19", "Homex": 0.02, "Ara": -0.03, "Urbi": 0.04},
      {"d": "2013-05-20", "Homex": -0.03, "Ara": -0.02, "Urbi": -0.03},
      {"d": "2013-05-22", "Homex": -0.06, "Ara": 0.02, "Urbi": -0.05},
      {"d": "2013-05-23", "Homex": 0.03, "Ara": 0.02, "Urbi": 0.03},
      {"d": "2013-05-25", "Homex": 0.03, "Ara": -0.02, "Urbi": 0.03},
      {"d": "2013-05-26", "Homex": -0.03, "Ara": -0.02, "Urbi": -0.03},
      {"d": "2013-05-28", "Homex": -0.04, "Ara": 0.01, "Urbi": -0.04},
      {"d": "2013-05-30", "Homex": 0.03, "Ara": 0.02, "Urbi": 0.03},
      {"d": "2013-06-01", "Homex": -0.02, "Ara": 0.02, "Urbi": 0.135},
      {"d": "2013-06-02", "Homex": 0.02, "Ara": -0.03, "Urbi": -0.03},
      {"d": "2013-06-04", "Homex": -0.09, "Ara": -0.03, "Urbi": -0.06},
      {"d": "2013-06-05", "Homex": -0.03, "Ara": 0.03, "Urbi": 0.03},
      {"d": "2013-06-07", "Homex": 0.02, "Ara": 0.02, "Urbi": 0.03},
      {"d": "2013-06-08", "Homex": -0.03, "Ara": -0.03, "Urbi": -0.03},
      {"d": "2013-06-10", "Homex": 0.04, "Ara": -0.04, "Urbi": -0.05},
      {"d": "2013-06-11", "Homex": 0.02, "Ara": 0.03, "Urbi": 0.03},
      {"d": "2013-06-13", "Homex": -0.08, "Ara": 0.02, "Urbi": 0.04},
      {"d": "2013-06-14", "Homex": 0.03, "Ara": -0.03, "Urbi": -0.03},
      {"d": "2013-06-16", "Homex": 0.02, "Ara": -0.03, "Urbi": -0.04},
      {"d": "2013-06-17", "Homex": -0.03, "Ara": 0.03, "Urbi": 0.03},
      {"d": "2013-06-19", "Homex": -0.085, "Ara": 0.095, "Urbi": 0.03},
      {"d": "2013-06-20", "Homex": 0.02, "Ara": 0.03, "Urbi": -0.03},
      {"d": "2013-06-22", "Homex": 0.03, "Ara": 0.07, "Urbi": -0.05},
      {"d": "2013-06-23", "Homex": -0.03, "Ara": -0.03, "Urbi": 0.03},
      {"d": "2013-06-25", "Homex": 0.097, "Ara": -0.03, "Urbi": 0.04},
      {"d": "2013-06-26", "Homex": -0.03, "Ara": 0.03, "Urbi": -0.03},
      {"d": "2013-06-28", "Homex": -0.085, "Ara": 0.04, "Urbi": -0.04},
      {"d": "2013-06-30", "Homex": 0.03, "Ara": -0.03, "Urbi": 0.03},
      {"d": "2013-07-01", "Homex": 0.02, "Ara": -0.02, "Urbi": 0.03},
      {"d": "2013-07-02", "Homex": -0.03, "Ara": 0.03, "Urbi": -0.03},
      {"d": "2013-07-04", "Homex": -0.04, "Ara": 0.03, "Urbi": -0.05},
      {"d": "2013-07-05", "Homex": 0.03, "Ara": -0.03, "Urbi": 0.03},
      {"d": "2013-07-07", "Homex": 0.06, "Ara": -0.02, "Urbi": 0.04},
      {"d": "2013-07-08", "Homex": -0.03, "Ara": 0.03, "Urbi": -0.03},
      {"d": "2013-07-10", "Homex": -0.02, "Ara": 0.02, "Urbi": -0.03},
      {"d": "2013-07-11", "Homex": 0.03, "Ara": -0.03, "Urbi": 0.03},
      {"d": "2013-07-13", "Homex": 0.03, "Ara": -0.03, "Urbi": 0.02},
      {"d": "2013-07-14", "Homex": -0.03, "Ara": 0.03, "Urbi": -0.03},
      {"d": "2013-07-16", "Homex": -0.03, "Ara": 0.02, "Urbi": -0.04},
      {"d": "2013-07-17", "Homex": 0.03, "Ara": -0.03, "Urbi": 0.03},
      {"d": "2013-07-19", "Homex": 0.02, "Ara": -0.02, "Urbi": -0.08},
      {"d": "2013-07-20", "Homex": -0.03, "Ara": 0.03, "Urbi": -0.03},
      {"d": "2013-07-22", "Homex": -0.03, "Ara": 0.08, "Urbi": 0.02},
      {"d": "2013-07-23", "Homex": 0.02, "Ara": 0.03, "Urbi": 0.03},
      {"d": "2013-07-24", "Homex": -0.05, "Ara": 0.06, "Urbi": -0.03},
      {"d": "2013-07-26", "Homex": -0.36, "Ara": -0.01, "Urbi": 0.01},
      {"d": "2013-07-28", "Homex": -0.37, "Ara": 0.02, "Urbi": -0.02},
      {"d": "2013-07-30", "Homex": -0.385, "Ara": -0.045, "Urbi": -0.02}
    ]
  },
  "transform": [{"fold": ["Homex", "Ara", "Urbi"], "as": ["series", "value"]}],
  "mark": {"type": "line", "strokeWidth": 3, "strokeJoin": "round", "strokeCap": "round"},
  "encoding": {
    "x": {
      "field": "d",
      "type": "temporal",
      "scale": {
        "type": "utc",
        "domain": [
          {"year": 2011, "month": 6, "date": 7, "utc": true},
          {"year": 2013, "month": 8, "date": 19, "utc": true}
        ]
      },
      "axis": {
        "title": null,
        "values": [
          {"year": 2011, "month": 8, "date": 1, "utc": true},
          {"year": 2011, "month": 9, "date": 1, "utc": true},
          {"year": 2011, "month": 10, "date": 1, "utc": true},
          {"year": 2011, "month": 11, "date": 1, "utc": true},
          {"year": 2011, "month": 12, "date": 1, "utc": true},
          {"year": 2012, "month": 1, "date": 1, "utc": true},
          {"year": 2012, "month": 2, "date": 1, "utc": true},
          {"year": 2012, "month": 3, "date": 1, "utc": true},
          {"year": 2012, "month": 4, "date": 1, "utc": true},
          {"year": 2012, "month": 5, "date": 1, "utc": true},
          {"year": 2012, "month": 6, "date": 1, "utc": true},
          {"year": 2012, "month": 7, "date": 1, "utc": true},
          {"year": 2012, "month": 8, "date": 1, "utc": true},
          {"year": 2012, "month": 9, "date": 1, "utc": true},
          {"year": 2012, "month": 10, "date": 1, "utc": true},
          {"year": 2012, "month": 11, "date": 1, "utc": true},
          {"year": 2012, "month": 12, "date": 1, "utc": true},
          {"year": 2013, "month": 1, "date": 1, "utc": true},
          {"year": 2013, "month": 2, "date": 1, "utc": true},
          {"year": 2013, "month": 3, "date": 1, "utc": true},
          {"year": 2013, "month": 4, "date": 1, "utc": true},
          {"year": 2013, "month": 5, "date": 1, "utc": true},
          {"year": 2013, "month": 6, "date": 1, "utc": true},
          {"year": 2013, "month": 7, "date": 1, "utc": true}
        ],
        "labelExpr": "utcFormat(datum.value, '%d/%m/%Y')",
        "labelAngle": 270,
        "labelAlign": "right",
        "labelBaseline": "middle",
        "labelPadding": 16,
        "labelFont": "Open Sans",
        "labelFontSize": 20.5,
        "labelColor": "#595959",
        "labelOverlap": false,
        "labelBound": false,
        "labelFlush": false,
        "ticks": false,
        "domain": false,
        "grid": false,
        "offset": -265.2
      }
    },
    "y": {
      "field": "value",
      "type": "quantitative",
      "scale": {"domain": [-0.7483, 0.4818], "nice": false, "zero": false},
      "axis": {
        "title": null,
        "values": [-0.5, -0.4, -0.3, -0.2, -0.1, 0, 0.1, 0.2, 0.3, 0.4],
        "labelExpr": "datum.value == 0 ? '0' : (datum.value < 0 ? '-' + format(-datum.value, '.1f') : format(datum.value, '.1f'))",
        "labelFont": "Open Sans",
        "labelFontSize": 20.5,
        "labelColor": "#595959",
        "labelPadding": 0,
        "ticks": false,
        "domain": false,
        "grid": false,
        "offset": -54
      }
    },
    "color": {
      "field": "series",
      "type": "nominal",
      "scale": {"domain": ["Homex", "Ara", "Urbi"], "range": ["#5B9BD5", "#ED7D31", "#A5A5A5"]},
      "legend": {
        "title": null,
        "orient": "none",
        "legendX": 378,
        "legendY": 372,
        "direction": "horizontal",
        "symbolType": "stroke",
        "symbolSize": 2809,
        "symbolStrokeWidth": 3,
        "labelFont": "Open Sans",
        "labelFontSize": 20.5,
        "labelColor": "#595959",
        "labelOffset": 4,
        "columnPadding": 23
      }
    }
  }
}
